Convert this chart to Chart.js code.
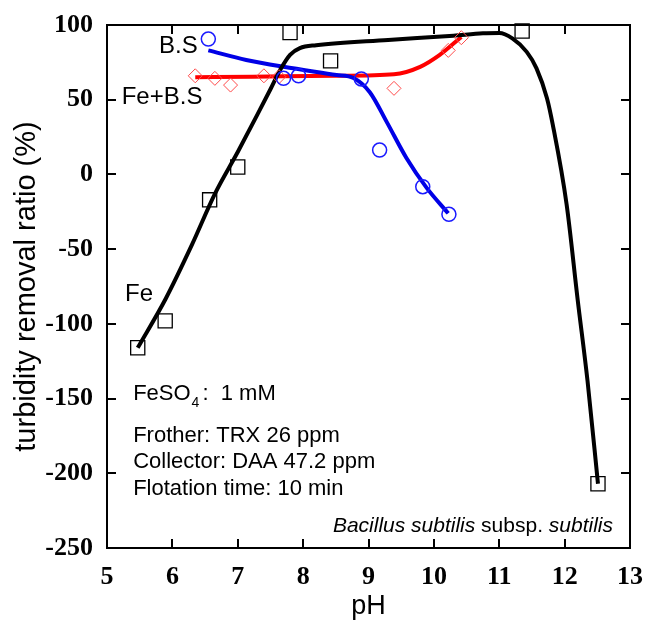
<!DOCTYPE html>
<html>
<head>
<meta charset="utf-8">
<script src="https://cdn.jsdelivr.net/npm/chart.js@4/dist/chart.umd.min.js"></script>
<style>
  html, body { margin: 0; padding: 0; background: #fff; }
  #wrap { width: 651px; height: 621px; }
</style>
</head>
<body>
<div id="wrap"><canvas id="chart" width="651" height="621"></canvas></div>
<script>
// measured points (pH, turbidity removal ratio %)
const fePH = [5.47, 5.89, 6.57, 7.0, 7.8, 8.42, 11.35, 12.51];
const feVal = [-116, -98, -17, 5, 95, 76, 96, -207];
const bsPH = [6.55, 7.7, 7.93, 8.89, 9.17, 9.83, 10.23];
const bsVal = [90.6, 64.3, 66, 63.9, 16.3, -8.2, -26.7];
const febsPH = [6.35, 6.65, 6.89, 7.4, 7.63, 9.39, 10.22, 10.42];
const febsVal = [66, 64.3, 59.8, 66, 65.4, 57.6, 83, 91.5];

// fitted curves
const feFitPH = [5.47, 5.9, 6.3, 6.65, 7.0, 7.3, 7.5, 7.65, 7.8, 7.95, 8.2, 9.3, 10.3, 10.75, 11.0, 11.2, 11.42, 11.57, 11.73, 11.82, 12.03, 12.2, 12.35, 12.51];
const feFitVal = [-116, -83, -47, -13, 15, 40, 57, 70, 80, 84.5, 86.5, 90, 92.8, 94.4, 94.6, 91, 82, 71, 51, 33, -20, -84, -138, -207];
const bsFitPH = [6.55, 7.13, 7.7, 8.51, 8.77, 9.02, 9.28, 9.58, 9.89, 10.22];
const bsFitVal = [83, 76.6, 72, 66.5, 64.5, 55, 35, 11, -9, -26];
const febsFitPH = [6.35, 7.23, 8.51, 9.39, 9.79, 10.09, 10.42];
const febsFitVal = [65, 65.4, 66, 67, 72, 80, 92];

const xTicks = [5, 6, 7, 8, 9, 10, 11, 12, 13];
const yTicks = [-250, -200, -150, -100, -50, 0, 50, 100];

const SANS = "Arial, 'Liberation Sans', sans-serif";
const SERIF = "'Times New Roman', 'Liberation Serif', serif";

function toXY(xs, ys) {
    return xs.map((x, i) => ({ x: x, y: ys[i] }));
}

function curve(xs, ys, color) {
    return {
        data: toXY(xs, ys),
        showLine: true,
        borderColor: color,
        borderWidth: 4,
        pointRadius: 0,
        cubicInterpolationMode: 'monotone',
        fill: false
    };
}

function markers(xs, ys, style, radius, color, width) {
    return {
        data: toXY(xs, ys),
        showLine: false,
        pointStyle: style,
        pointRadius: radius,
        pointBorderColor: color,
        pointBackgroundColor: 'rgba(0,0,0,0)',
        pointBorderWidth: width
    };
}

// box frame with inward ticks on all four sides
const framePlugin = {
    id: 'frame',
    afterDraw(chart) {
        const { ctx, chartArea: a, scales } = chart;
        ctx.save();
        ctx.strokeStyle = '#000';
        ctx.lineWidth = 2;
        ctx.strokeRect(a.left, a.top, a.right - a.left, a.bottom - a.top);
        const len = 9;
        ctx.beginPath();
        xTicks.forEach(v => {
            const px = Math.round(scales.x.getPixelForValue(v));
            ctx.moveTo(px, a.bottom); ctx.lineTo(px, a.bottom - len);
            ctx.moveTo(px, a.top); ctx.lineTo(px, a.top + len);
        });
        yTicks.forEach(v => {
            const py = Math.round(scales.y.getPixelForValue(v));
            ctx.moveTo(a.left, py); ctx.lineTo(a.left + len, py);
            ctx.moveTo(a.right, py); ctx.lineTo(a.right - len, py);
        });
        ctx.stroke();
        ctx.restore();
    }
};

// series labels and experiment notes
const notesPlugin = {
    id: 'notes',
    afterDraw(chart) {
        const { ctx, scales } = chart;
        const X = v => scales.x.getPixelForValue(v);
        const Y = v => scales.y.getPixelForValue(v);
        ctx.save();
        ctx.fillStyle = '#000';
        ctx.textBaseline = 'alphabetic';
        ctx.textAlign = 'left';

        ctx.font = '24px ' + SANS;
        ctx.fillText('B.S', X(5.795), Y(81.5));
        ctx.fillText('Fe+B.S', X(5.225), Y(47.1));
        ctx.fillText('Fe', X(5.275), Y(-84.5));

        // FeSO4 line with subscript
        let x = X(5.4);
        const yb = Y(-151);
        ctx.font = '22px ' + SANS;
        ctx.fillText('FeSO', x, yb);
        x += ctx.measureText('FeSO').width + 1;
        ctx.font = '14px ' + SANS;
        ctx.fillText('4', x, yb + 7);
        x += ctx.measureText('4').width + 3;
        ctx.font = '22px ' + SANS;
        ctx.fillText(':  1 mM', x, yb);

        ctx.fillText('Frother: TRX 26 ppm', X(5.4), Y(-179));
        ctx.fillText('Collector: DAA 47.2 ppm', X(5.4), Y(-196.5));
        ctx.fillText('Flotation time: 10 min', X(5.4), Y(-214.6));

        // species name, right aligned
        const parts = [
            ['Bacillus subtilis', 'italic 21px ' + SANS],
            [' subsp. ', '21px ' + SANS],
            ['subtilis', 'italic 21px ' + SANS]
        ];
        let right = X(12.74);
        const ys = Y(-239);
        ctx.textAlign = 'right';
        for (let i = parts.length - 1; i >= 0; i--) {
            ctx.font = parts[i][1];
            ctx.fillText(parts[i][0], right, ys);
            right -= ctx.measureText(parts[i][0]).width;
        }
        ctx.restore();
    }
};

const ctx = document.getElementById('chart').getContext('2d');

new Chart(ctx, {
    type: 'scatter',
    data: {
        datasets: [
            markers(fePH, feVal, 'rect', 10, '#000', 1.3),
            markers(bsPH, bsVal, 'circle', 7, '#1a1aff', 1.5),
            markers(febsPH, febsVal, 'rectRot', 7, '#ff4a4a', 1),
            curve(feFitPH, feFitVal, '#000'),
            curve(bsFitPH, bsFitVal, '#0000e6'),
            curve(febsFitPH, febsFitVal, '#ff0000')
        ]
    },
    options: {
        responsive: false,
        animation: false,
        clip: false,
        layout: { padding: { top: 25, right: 21, left: 0, bottom: 0 } },
        plugins: {
            legend: { display: false },
            tooltip: { enabled: false }
        },
        scales: {
            x: {
                type: 'linear',
                min: 5,
                max: 13,
                afterBuildTicks: s => { s.ticks = xTicks.map(v => ({ value: v })); },
                afterFit: s => { s.height = 73; s.paddingLeft = 0; s.paddingRight = 0; },
                grid: { display: false, drawTicks: false },
                border: { display: false },
                ticks: {
                    color: '#000',
                    padding: 14,
                    maxRotation: 0,
                    font: { family: SERIF, size: 26, weight: 'bold' }
                },
                title: {
                    display: true,
                    text: 'pH',
                    color: '#000',
                    padding: { top: 0, bottom: 0 },
                    font: { family: SANS, size: 27, lineHeight: 1.05 }
                }
            },
            y: {
                type: 'linear',
                min: -250,
                max: 100,
                afterBuildTicks: s => { s.ticks = yTicks.map(v => ({ value: v })); },
                afterFit: s => { s.width = 107; s.paddingTop = 0; s.paddingBottom = 0; },
                grid: { display: false, drawTicks: false },
                border: { display: false },
                ticks: {
                    color: '#000',
                    padding: 14,
                    font: { family: SERIF, size: 26, weight: 'bold' }
                },
                title: {
                    display: true,
                    text: 'turbidity removal ratio (%)',
                    color: '#000',
                    padding: { top: 10, bottom: 0 },
                    font: { family: SANS, size: 29, lineHeight: 1.2 }
                }
            }
        }
    },
    plugins: [framePlugin, notesPlugin]
});
</script>
</body>
</html>
